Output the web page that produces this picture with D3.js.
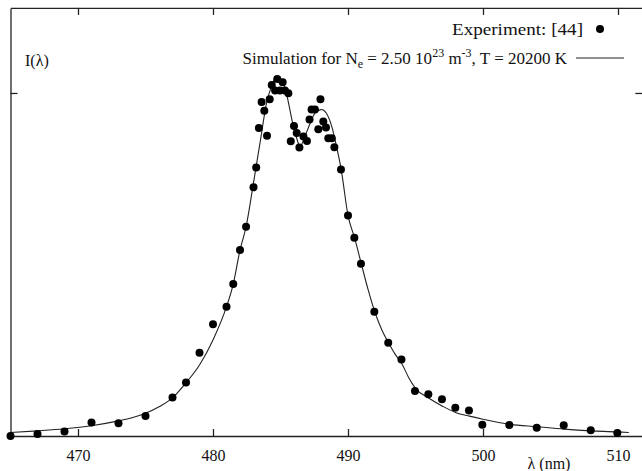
<!DOCTYPE html>
<html lang="en">
<head>
    <meta charset="UTF-8">
    <title>Line profile: experiment vs simulation</title>
    <script src="https://d3js.org/d3.v7.min.js"></script>
    <style>
        body { margin: 0; background: #fff; }
        svg text { font-family: "Liberation Serif", "Times New Roman", serif; fill: #111; }
        .axis path, .axis line { stroke: #222; stroke-width: 1.3; }
    </style>
</head>
<body>
<div id="chart"></div>
<script>

  // Experimental points (wavelength in nm, normalised intensity)
  const lambdaExp = [465.0, 467.0, 469.0, 471.0, 473.0, 475.0, 477.0, 478.0, 479.0, 480.0,
                     481.0, 481.5, 482.0, 482.45, 483.0, 483.2, 483.4, 483.6, 483.8, 484.0,
                     484.2, 484.35, 484.6, 484.76, 484.96, 485.16, 485.33, 485.58, 485.76, 486.0,
                     486.2, 486.4, 486.7, 486.96, 487.15, 487.3, 487.55, 487.8, 487.96, 488.17,
                     488.37, 488.54, 488.8, 488.99, 489.48, 490.0, 490.47, 490.96, 491.95, 492.98,
                     493.96, 494.96, 495.95, 496.96, 497.95, 498.96, 499.95, 501.95, 503.98, 505.98,
                     507.98, 509.95];
  const intensityExp = [0.000, 0.006, 0.013, 0.039, 0.037, 0.058, 0.112, 0.156, 0.243, 0.326,
                        0.377, 0.443, 0.542, 0.610, 0.725, 0.783, 0.898, 0.974, 0.948, 0.875,
                        0.982, 1.023, 1.007, 1.041, 1.007, 1.031, 1.007, 0.999, 0.859, 0.904,
                        0.883, 0.841, 0.873, 0.860, 0.923, 0.952, 0.952, 0.894, 0.982, 0.917,
                        0.899, 0.868, 0.868, 0.842, 0.777, 0.643, 0.578, 0.502, 0.362, 0.272,
                        0.223, 0.131, 0.122, 0.107, 0.082, 0.074, 0.033, 0.032, 0.024, 0.031,
                        0.017, 0.009];

  // Simulated profile
  const lambdaSim = [465.0, 467.0, 469.0, 471.0, 473.0, 474.0, 475.0, 476.0, 477.0, 478.0,
                     479.0, 480.0, 481.0, 481.5, 482.0, 482.45, 483.0, 483.5, 484.0, 484.3,
                     484.5, 484.8, 485.1, 485.4, 485.65, 485.9, 486.2, 486.45, 486.8, 487.2,
                     487.55, 488.05, 488.4, 488.8, 489.15, 489.5, 490.0, 490.5, 491.0, 491.5,
                     492.0, 492.5, 493.0, 493.5, 494.0, 494.5, 495.0, 496.0, 497.0, 498.0,
                     499.0, 500.0, 502.0, 504.0, 506.0, 508.0, 510.0, 510.8];
  const intensitySim = [0.010, 0.015, 0.021, 0.030, 0.044, 0.053, 0.066, 0.085, 0.111, 0.155,
                        0.207, 0.280, 0.377, 0.443, 0.542, 0.610, 0.738, 0.859, 0.977, 1.015,
                        1.035, 1.047, 1.038, 1.006, 0.960, 0.912, 0.868, 0.844, 0.873, 0.912,
                        0.941, 0.952, 0.941, 0.902, 0.844, 0.776, 0.643, 0.576, 0.500, 0.425,
                        0.360, 0.310, 0.272, 0.238, 0.210, 0.170, 0.139, 0.110, 0.087, 0.068,
                        0.058, 0.049, 0.034, 0.027, 0.020, 0.015, 0.012, 0.010];

  const xTicks = [470, 480, 490, 500, 510];
  const yTicks = [1];

  const W = 642, H = 471;
  const plotLeft = 10.5, plotRight = 642.3, plotTop = 7.9, plotBottom = 436;

  const svg = d3.select("#chart")
    .append("svg")
      .attr("width", W)
      .attr("height", H);

  const x = d3.scaleLinear().domain([465, 511.8]).range([plotLeft, plotRight]);
  const y = d3.scaleLinear().domain([0, 1.248]).range([plotBottom, plotTop]);

  // frame axes, ticks pointing inwards
  svg.append("g")
    .attr("class", "axis")
    .attr("transform", `translate(0,${plotBottom})`)
    .call(d3.axisBottom(x).tickValues(xTicks).tickSizeInner(-7).tickSizeOuter(0).tickPadding(14))
    .selectAll("text")
      .style("font-size", "16px")
      .style("font-family", "Liberation Serif");

  svg.append("g")
    .attr("class", "axis")
    .attr("transform", `translate(0,${plotTop})`)
    .call(d3.axisTop(x).tickValues(xTicks).tickSizeInner(-7).tickSizeOuter(0).tickFormat(""));

  svg.append("g")
    .attr("class", "axis")
    .attr("transform", `translate(${plotLeft},0)`)
    .call(d3.axisLeft(y).tickValues(yTicks).tickSizeInner(-7).tickSizeOuter(0).tickFormat(""));

  svg.append("g")
    .attr("class", "axis")
    .attr("transform", `translate(${plotRight},0)`)
    .call(d3.axisRight(y).tickValues(yTicks).tickSizeInner(-7).tickSizeOuter(0).tickFormat(""));

  // axis titles
  svg.append("text")
    .attr("x", 25).attr("y", 66)
    .style("font-size", "16px")
    .text("I(λ)");

  svg.append("text")
    .attr("x", 549).attr("y", 469)
    .attr("text-anchor", "middle")
    .style("font-size", "16px")
    .text("λ (nm)");

  // simulation curve
  const simData = lambdaSim.map((l, i) => ({ l: l, v: intensitySim[i] }));
  const line = d3.line()
    .x(d => x(d.l))
    .y(d => y(d.v))
    .curve(d3.curveMonotoneX);

  svg.append("path")
    .datum(simData)
    .attr("fill", "none")
    .attr("stroke", "#222")
    .attr("stroke-width", 1.1)
    .attr("d", line);

  // experimental points
  const expData = lambdaExp.map((l, i) => ({ l: l, v: intensityExp[i] }));
  svg.selectAll("circle.exp")
    .data(expData)
    .join("circle")
      .attr("class", "exp")
      .attr("cx", d => x(d.l))
      .attr("cy", d => y(d.v))
      .attr("r", 4)
      .attr("fill", "#000");

  // legend
  svg.append("text")
    .attr("x", 583).attr("y", 35)
    .attr("text-anchor", "end")
    .attr("textLength", 131)
    .attr("lengthAdjust", "spacingAndGlyphs")
    .style("font-size", "17px")
    .text("Experiment: [44]");
  svg.append("circle")
    .attr("cx", 600).attr("cy", 29).attr("r", 4).attr("fill", "#000");

  const sim = svg.append("text")
    .attr("x", 567).attr("y", 64)
    .attr("text-anchor", "end")
    .style("font-size", "17px");
  sim.append("tspan").text("Simulation for N");
  sim.append("tspan").attr("dy", 4).style("font-size", "12px").text("e");
  sim.append("tspan").attr("dy", -4).text(" = 2.50 10");
  sim.append("tspan").attr("dy", -7).style("font-size", "12px").text("23");
  sim.append("tspan").attr("dy", 7).text(" m");
  sim.append("tspan").attr("dy", -7).style("font-size", "12px").text("-3");
  sim.append("tspan").attr("dy", 7).text(", T = 20200 K");

  svg.append("line")
    .attr("x1", 576).attr("x2", 624)
    .attr("y1", 58).attr("y2", 58)
    .attr("stroke", "#222").attr("stroke-width", 1.1);

</script>
</body>
</html>
